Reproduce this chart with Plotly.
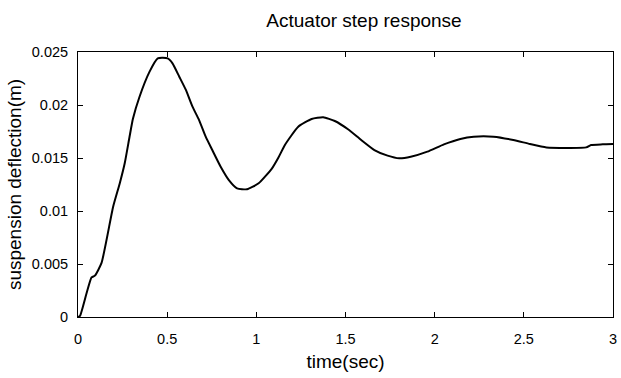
import plotly.graph_objects as go

t = [0.0, 0.011, 0.048, 0.076, 0.095, 0.132, 0.197, 0.234, 0.262, 0.289, 0.308, 0.345, 0.40,
     0.447, 0.503, 0.530, 0.568, 0.605, 0.642, 0.679, 0.716, 0.753, 0.80, 0.846, 0.892, 0.948,
     1.013, 1.087, 1.124, 1.161, 1.235, 1.31, 1.375, 1.44, 1.514, 1.588, 1.662, 1.736, 1.801,
     1.866, 1.959, 2.052, 2.144, 2.219, 2.33, 2.441, 2.534, 2.627, 2.85, 2.877, 2.942, 3.0]
deflection = [0.0, 0.0001, 0.00224, 0.00374, 0.0039, 0.0051, 0.0104, 0.0126, 0.0145, 0.0170,
              0.0187, 0.02078, 0.0231, 0.0244, 0.0244, 0.02393, 0.02267, 0.02142, 0.01984,
              0.01858, 0.01701, 0.01575, 0.01418, 0.01292, 0.01214, 0.01205, 0.01261, 0.01400,
              0.01505, 0.01625, 0.01795, 0.01868, 0.01884, 0.01849, 0.01771, 0.0167, 0.01575,
              0.01522, 0.01497, 0.01512, 0.0156, 0.01629, 0.0168, 0.01701, 0.01701, 0.0167,
              0.01632, 0.016, 0.016, 0.01623, 0.01629, 0.01632]

x_ticks = [0, 0.5, 1, 1.5, 2, 2.5, 3]
x_labels = ["0", "0.5", "1", "1.5", "2", "2.5", "3"]
y_ticks = [0, 0.005, 0.01, 0.015, 0.02, 0.025]
y_labels = ["0", "0.005", "0.01", "0.015", "0.02", "0.025"]

font = "Liberation Sans, Arial, sans-serif"

fig = go.Figure(go.Scatter(x=t, y=deflection, mode="lines",
                           line=dict(color="black", width=2, shape="spline", smoothing=0.5),
                           showlegend=False, hoverinfo="skip"))

axis_common = dict(showline=True, linecolor="black", linewidth=1, mirror="ticks",
                   ticks="inside", ticklen=5, tickcolor="black", showgrid=False,
                   zeroline=False, ticklabeloverflow="allow",
                   tickfont=dict(family=font, size=14.5, color="black"))

fig.update_layout(
    width=621, height=378,
    margin=dict(l=78, r=4, t=52, b=61),
    paper_bgcolor="white", plot_bgcolor="white",
    title=dict(text="Actuator step response", x=364 / 621, xanchor="center",
               y=1 - 20 / 378, yanchor="middle",
               font=dict(family=font, size=19, color="black")),
    xaxis=dict(range=[0, 3], tickvals=x_ticks, ticktext=x_labels, ticklabelstandoff=9,
               title=dict(text="time(sec)", font=dict(family=font, size=19, color="black"), standoff=8),
               **axis_common),
    yaxis=dict(range=[0, 0.025], tickvals=y_ticks, ticktext=y_labels, ticklabelstandoff=6,
               title=dict(text="suspension deflection(m)", font=dict(family=font, size=19, color="black"), standoff=5),
               **axis_common),
)

fig.write_html("out.html")
